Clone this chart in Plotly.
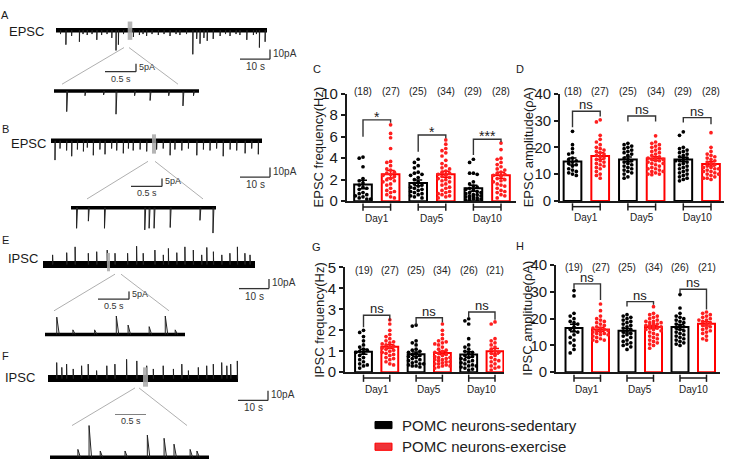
import plotly.graph_objects as go

W, H = 731, 475
FONT = "Arial, 'Liberation Sans', sans-serif"
INK = "#1a1a1a"
RED = "#ff0000"


def fx(x):
    return x / W


def fy(y):
    return 1 - y / H


# ======================= DATA =======================
days = ["Day1", "Day5", "Day10"]
legend_labels = ["POMC neurons-sedentary", "POMC neurons-exercise"]

# ---- C: EPSC frequency (Hz)
C_sed_mean = [1.55, 1.7, 1.2]
C_sed_sem = [0.4, 0.27, 0.28]
C_ex_mean = [2.5, 2.5, 2.4]
C_ex_sem = [0.35, 0.28, 0.28]
C_n = ["(18)", "(27)", "(25)", "(34)", "(29)", "(28)"]
C_sig = ["*", "*", "***"]
C_sed_pts = [
    [4.1, 4.0, 3.2, 2.1, 1.9, 1.7, 1.5, 1.3, 1.2, 1.1, 0.8, 0.7, 0.6, 0.5, 0.4, 0.3, 0.2, 0.2],
    [3.9, 3.6, 3.3, 3.1, 2.7, 2.6, 2.5, 2.4, 2.2, 2.0, 1.8, 1.6, 1.5, 1.4, 1.3, 1.2, 1.1, 1.0,
     0.9, 0.8, 0.7, 0.6, 0.5, 0.4, 0.3],
    [3.9, 3.6, 2.6, 2.6, 2.5, 1.8, 1.6, 1.4, 1.3, 1.2, 1.1, 1.0, 0.9, 0.8, 0.8, 0.7, 0.6, 0.6,
     0.5, 0.5, 0.4, 0.4, 0.3, 0.3, 0.2, 0.2, 0.1, 0.1, 0.1],
]
C_ex_pts = [
    [7.1, 6.3, 5.9, 4.9, 3.7, 3.6, 3.3, 3.0, 2.9, 2.7, 2.6, 2.5, 2.4, 2.3, 2.1, 2.0, 1.9, 1.8,
     1.6, 1.5, 1.2, 1.0, 0.9, 0.8, 0.6, 0.4, 0.3],
    [5.7, 5.3, 4.9, 4.7, 4.5, 4.2, 3.8, 3.5, 3.3, 3.1, 3.0, 2.8, 2.7, 2.6, 2.5, 2.4, 2.3, 2.2,
     2.1, 2.0, 1.9, 1.8, 1.6, 1.5, 1.3, 1.2, 1.0, 0.9, 0.8, 0.7, 0.6, 0.5, 0.4, 0.3],
    [5.4, 4.8, 4.0, 3.9, 3.6, 3.4, 3.2, 3.0, 2.9, 2.7, 2.6, 2.5, 2.4, 2.3, 2.1, 2.0, 1.9, 1.8,
     1.6, 1.5, 1.4, 1.2, 1.0, 0.9, 0.8, 0.6, 0.5, 0.3],
]

# ---- D: EPSC amplitude (pA)
D_sed_mean = [14.7, 15.5, 15.5]
D_sed_sem = [1.3, 0.9, 0.8]
D_ex_mean = [16.8, 15.8, 13.8]
D_ex_sem = [1.2, 0.7, 0.8]
D_n = ["(18)", "(27)", "(25)", "(34)", "(29)", "(28)"]
D_sig = ["ns", "ns", "ns"]
D_sed_pts = [
    [26.0, 21.0, 19.5, 18.0, 17.5, 16.0, 15.5, 15.0, 14.5, 14.0, 13.5, 13.0, 12.0, 11.5, 11.0,
     10.5, 10.0, 9.5],
    [21.5, 21.0, 20.5, 20.0, 19.5, 19.0, 18.5, 18.0, 17.5, 17.0, 16.0, 15.5, 15.0, 14.5, 14.0,
     13.5, 13.0, 12.5, 12.0, 11.5, 11.0, 10.5, 10.0, 9.0, 8.5],
    [25.8, 24.5, 20.0, 19.5, 19.0, 18.5, 18.0, 17.5, 17.0, 16.5, 16.0, 15.5, 15.0, 15.0, 14.5,
     14.0, 13.5, 13.0, 12.5, 12.0, 11.5, 11.0, 10.5, 10.0, 9.5, 9.0, 8.5, 8.0, 7.5],
]
D_ex_pts = [
    [30.3, 29.5, 24.5, 23.0, 22.0, 21.0, 20.0, 19.5, 19.0, 18.5, 18.0, 17.5, 17.0, 16.5, 16.0,
     15.5, 15.0, 14.5, 14.0, 13.5, 13.0, 12.5, 12.0, 11.0, 10.0, 9.5, 8.5],
    [24.3, 22.0, 21.5, 21.0, 20.5, 20.0, 19.5, 19.0, 18.5, 18.0, 17.5, 17.0, 16.5, 16.0, 16.0,
     15.5, 15.5, 15.0, 15.0, 14.5, 14.0, 14.0, 13.5, 13.0, 12.5, 12.0, 12.0, 11.5, 11.0, 11.0,
     10.5, 10.0, 10.0, 9.8],
    [25.5, 20.0, 18.5, 17.5, 17.0, 16.5, 16.0, 15.5, 15.0, 14.5, 14.0, 13.5, 13.0, 12.5, 12.5,
     12.0, 12.0, 11.5, 11.0, 11.0, 10.5, 10.0, 10.0, 9.5, 9.0, 8.5, 8.5, 8.0],
]

# ---- G: IPSC frequency (Hz)
G_sed_mean = [0.98, 0.86, 0.85]
G_sed_sem = [0.12, 0.1, 0.13]
G_ex_mean = [1.22, 0.92, 1.0]
G_ex_sem = [0.09, 0.08, 0.13]
G_n = ["(19)", "(27)", "(25)", "(34)", "(26)", "(21)"]
G_sig = ["ns", "ns", "ns"]
G_sed_pts = [
    [2.0, 1.9, 1.7, 1.5, 1.3, 1.2, 1.1, 1.05, 1.0, 0.95, 0.9, 0.8, 0.7, 0.6, 0.5, 0.4, 0.35,
     0.3, 0.2],
    [2.25, 2.2, 1.5, 1.4, 1.3, 1.1, 1.05, 1.0, 0.95, 0.9, 0.85, 0.8, 0.75, 0.7, 0.65, 0.6, 0.55,
     0.5, 0.45, 0.4, 0.4, 0.35, 0.3, 0.3, 0.25],
    [2.55, 2.45, 2.3, 1.6, 1.3, 1.2, 1.1, 1.0, 0.95, 0.9, 0.8, 0.75, 0.7, 0.65, 0.6, 0.55, 0.5,
     0.45, 0.4, 0.35, 0.3, 0.3, 0.25, 0.2, 0.15, 0.1],
]
G_ex_pts = [
    [2.5, 2.3, 2.0, 1.8, 1.7, 1.6, 1.5, 1.45, 1.4, 1.35, 1.3, 1.25, 1.2, 1.15, 1.1, 1.05, 1.0,
     0.95, 0.9, 0.85, 0.8, 0.7, 0.65, 0.6, 0.5, 0.4, 0.35],
    [2.3, 2.0, 1.8, 1.6, 1.5, 1.45, 1.4, 1.35, 1.3, 1.2, 1.1, 1.05, 1.0, 0.95, 0.9, 0.85, 0.8,
     0.75, 0.7, 0.7, 0.65, 0.6, 0.6, 0.55, 0.5, 0.5, 0.45, 0.4, 0.4, 0.35, 0.3, 0.3, 0.25, 0.2],
    [2.4, 2.3, 1.6, 1.5, 1.4, 1.3, 1.2, 1.1, 1.0, 0.95, 0.9, 0.8, 0.7, 0.6, 0.55, 0.5, 0.4, 0.3,
     0.25, 0.2, 0.1],
]

# ---- H: IPSC amplitude (pA)
H_sed_mean = [16.5, 15.5, 16.9]
H_sed_sem = [1.4, 0.8, 0.9]
H_ex_mean = [16.0, 16.9, 18.1]
H_ex_sem = [0.7, 0.6, 0.8]
H_n = ["(19)", "(27)", "(25)", "(34)", "(26)", "(21)"]
H_sig = ["ns", "ns", "ns"]
H_sed_pts = [
    [30.5, 28.5, 22.0, 21.0, 20.0, 19.0, 18.5, 18.0, 17.0, 16.0, 15.5, 15.0, 14.0, 13.0, 12.0,
     11.0, 10.0, 8.5, 7.2],
    [21.5, 21.0, 20.5, 20.0, 19.5, 19.0, 18.5, 18.0, 17.5, 17.0, 16.5, 16.0, 15.5, 15.0, 14.5,
     14.0, 13.5, 13.0, 12.0, 11.5, 11.0, 10.5, 10.0, 9.5, 8.5],
    [29.0, 24.0, 22.0, 21.0, 20.5, 20.0, 19.5, 19.0, 18.5, 18.0, 17.5, 17.0, 16.5, 16.0, 15.5,
     15.0, 14.5, 14.0, 13.5, 13.0, 12.5, 12.0, 11.5, 11.0, 10.5, 10.0],
]
H_ex_pts = [
    [25.5, 23.0, 21.0, 20.0, 19.5, 19.0, 18.5, 18.0, 17.5, 17.0, 16.5, 16.5, 16.0, 15.5, 15.5,
     15.0, 15.0, 14.5, 14.5, 14.0, 14.0, 13.5, 13.0, 12.5, 12.0, 12.0, 11.5],
    [24.5, 22.0, 21.5, 21.0, 20.5, 20.0, 19.5, 19.0, 19.0, 18.5, 18.5, 18.0, 18.0, 17.5, 17.5,
     17.0, 17.0, 16.5, 16.5, 16.0, 16.0, 15.5, 15.0, 14.5, 14.0, 13.5, 13.0, 12.5, 12.0, 11.5,
     11.0, 10.5, 10.0, 9.0],
    [22.5, 22.0, 21.5, 21.0, 20.5, 20.0, 19.5, 19.5, 19.0, 18.5, 18.0, 17.5, 17.0, 16.5, 16.0,
     15.5, 15.0, 14.5, 13.5, 12.5, 12.0],
]

# ---- Example recordings: event times (s) and amplitudes (pA)
A_main_t = [1.5, 3.3, 5.2, 7.8, 9.0, 10.4, 12.0, 13.6, 15.2, 17.0, 18.6, 20.0, 20.8, 22.5, 25.8,
            27.8, 29.0, 30.2, 32.0, 34.1, 36.0, 38.0, 40.0, 41.3, 43.5, 45.6, 46.9, 48.0, 49.3,
            50.4, 52.4, 54.7, 56.5, 58.0, 60.0, 61.3, 63.6, 65.8, 66.8, 67.8, 69.7]
A_main_amp = [4, 15, 6, 12, 4, 5, 4, 10, 5, 4, 8, 21, 15, 4, 7, 5, 4, 6, 4, 5, 4, 6, 4, 5, 4,
              25, 9, 14, 8, 11, 9, 6, 4, 6, 4, 5, 10, 5, 4, 18, 12]
A_zoom_t = [0.205, 0.5, 0.8, 1.0, 1.3, 1.55, 1.85, 2.08, 2.25]
A_zoom_amp = [13, 3, 2.5, 14.6, 3, 6, 3, 9.4, 3]

B_main_t = [1.33, 3.0, 5.2, 6.9, 8.8, 10.8, 12.1, 14.1, 16.3, 18.0, 20.2, 21.9, 24.1, 25.8, 27.4,
            29.7, 31.9, 35.2, 37.4, 39.7, 41.3, 43.6, 45.8, 48.6, 50.8, 53.0, 55.2, 57.4, 59.7,
            61.9, 64.7, 66.9, 69.1]
B_main_amp = [20, 8, 10, 16, 9, 11, 7, 15, 9, 14, 8, 10, 13, 8, 10, 9, 11, 9, 8, 15, 9, 10, 8,
              15, 9, 10, 8, 16, 9, 10, 13, 8, 14]
B_zoom_t = [0.09, 0.28, 0.54, 1.19, 1.26, 1.34, 1.60, 2.08, 2.29]
B_zoom_amp = [13, 8.5, 13, 14, 13, 13, 12.5, 8, 16]

E_main_t = [3.2, 7.9, 10.7, 15.1, 17.9, 21.4, 24.0, 28.2, 31.2, 33.4, 37.3, 40.1, 41.8, 44.6,
            47.3, 50.1, 52.9, 54.6, 56.8, 59.6, 62.3, 64.8, 67.3, 69.0]
E_main_amp = [10, 12.3, 18.3, 11.7, 13.3, 15, 11.7, 11.7, 19, 11.7, 15, 10, 16.7, 12.3, 18.3,
              15, 10, 17.7, 13.3, 10, 11.7, 18.3, 11.7, 10]
E_zoom_t = [0.19, 0.45, 0.8, 1.15, 1.34, 1.68, 1.94, 2.1]
E_zoom_amp = [11, 3, 3, 11.7, 6, 5, 11.7, 3]

F_main_t = [2.9, 4.6, 6.2, 8.4, 11.2, 13.4, 16.2, 19.6, 22.3, 26.2, 29.6, 32.9, 35.1, 38.4, 41.8,
            44.6, 46.8, 50.1, 52.9, 55.1, 57.9, 59.6, 60.9, 63.1]
F_main_amp = [16.6, 11.6, 15, 10, 13.3, 15, 8.3, 13.3, 15, 20, 18.3, 13.3, 10, 13.3, 10, 15, 8.3,
              11.6, 13.3, 15, 16.6, 13.3, 15, 18.3]
F_zoom_t = [0.45, 0.63, 0.81, 1.21, 1.57, 1.84, 2.0, 2.26, 2.37]
F_zoom_amp = [5, 20, 4, 4, 14, 12, 8.3, 5, 4]

# ======================= FIGURE =======================
fig = go.Figure()
layout = dict(
    width=W, height=H, margin=dict(l=0, r=0, t=0, b=0),
    paper_bgcolor="white", plot_bgcolor="rgba(0,0,0,0)",
    showlegend=False, barmode="overlay",
    font=dict(family=FONT, color=INK),
)
shapes = []
annotations = []


def text(x, y, s, size, xanchor="center", yanchor="middle", xref="paper", yref="paper",
         color=INK, angle=0, xshift=0, yshift=0):
    annotations.append(dict(x=x, y=y, text=s, showarrow=False, xref=xref, yref=yref,
                            xanchor=xanchor, yanchor=yanchor, textangle=angle,
                            font=dict(size=size, color=color, family=FONT),
                            xshift=xshift, yshift=yshift))


def seg(x0, y0, x1, y1, xref="paper", yref="paper", color=INK, width=1.4, layer="above"):
    shapes.append(dict(type="line", x0=x0, y0=y0, x1=x1, y1=y1, xref=xref, yref=yref,
                       line=dict(color=color, width=width), layer=layer))


# ---------------- recordings ----------------
blocks = [
    dict(letter="A", ly=6, label="EPSC", lab_xy=(26, 23), sign=-1, zdec=0.015,
         main=(56, 22, 211, A_main_t, A_main_amp, 4.5), zoom=(54, 85, 145, A_zoom_t, A_zoom_amp, 3.5),
         sc_main=(270, 52), sc_zoom=(136, 65), rect=(127.7, 13, 132.3, 32),
         links=((124, 40, 62, 78), (129, 40, 178, 78))),
    dict(letter="B", ly=124, label="EPSC", lab_xy=(28, 139), sign=-1, zdec=0.015,
         main=(51, 136.7, 211, B_main_t, B_main_amp, 4.5), zoom=(71, 206, 145, B_zoom_t, B_zoom_amp, 3.5),
         sc_main=(270, 174.3), sc_zoom=(162, 184), rect=(152, 130, 156, 150),
         links=((148, 158, 87, 197), (155, 158, 203, 197))),
    dict(letter="E", ly=240, label="IPSC", lab_xy=(22.5, 259), sign=1, zdec=0.04,
         main=(43, 265, 212, E_main_t, E_main_amp, 7), zoom=(45, 337.7, 140, E_zoom_t, E_zoom_amp, 3.5),
         sc_main=(269, 290), sc_zoom=(129, 301), rect=(107, 253, 110, 272),
         links=((115, 275, 54, 313), (121, 275, 169, 313))),
    dict(letter="F", ly=360, label="IPSC", lab_xy=(20, 381.7), sign=1, zdec=0.04,
         main=(48, 383.3, 190, F_main_t, F_main_amp, 7), zoom=(50, 465, 159, F_zoom_t, F_zoom_amp, 3.5),
         sc_main=(268, 406), sc_zoom=(146, 420), rect=(143, 371.7, 148, 391.7),
         links=((135, 393, 72, 432), (139, 393, 187, 432))),
]

ax_idx = 5
for blk in blocks:
    text(fx(5), fy(blk["ly"]), blk["letter"], 11)
    text(fx(blk["lab_xy"][0]), fy(blk["lab_xy"][1]), blk["label"], 13)
    for part, sx, sy, dec, sbar in (("main", 3.0, 1.0, 0.1, (10, 10, "10 s", "10pA", 10)),
                                    ("zoom", 62.0, 1.65, blk["zdec"], (0.5, 5, "0.5 s", "5pA", 9))):
        t0, base, length, ev_t, ev_a, band = blk[part]
        i = ax_idx
        ax_idx += 1
        L, R = 0, 300
        T, B = max(0, base - 45), min(H, base + 45)
        layout[f"xaxis{i}"] = dict(domain=[fx(L), fx(R)], range=[(L - t0) / sx, (R - t0) / sx],
                                   visible=False, anchor=f"y{i}", fixedrange=True)
        layout[f"yaxis{i}"] = dict(domain=[fy(B), fy(T)], range=[(base - B) / sy, (base - T) / sy],
                                   visible=False, anchor=f"x{i}", fixedrange=True)
        dur = length / sx
        fig.add_trace(go.Scatter(x=[0, dur], y=[0, 0], mode="lines",
                                 line=dict(color="black", width=band),
                                 xaxis=f"x{i}", yaxis=f"y{i}", hoverinfo="skip"))
        xs, ys = [], []
        for t, a in zip(ev_t, ev_a):
            xs += [t, t, t + dec, None]
            ys += [0, blk["sign"] * a, 0, None]
        fig.add_trace(go.Scatter(x=xs, y=ys, mode="lines",
                                 line=dict(color="#222222", width=1.0),
                                 xaxis=f"x{i}", yaxis=f"y{i}", hoverinfo="skip"))
        cx, cy = blk["sc_" + part]
        tc, vc = (cx - t0) / sx, (base - cy) / sy
        tlen, alen, tlab, alab, fsz = sbar
        seg(tc - tlen, vc, tc, vc, xref=f"x{i}", yref=f"y{i}", color="#333333", width=1.3)
        seg(tc, vc, tc, vc + alen, xref=f"x{i}", yref=f"y{i}", color="#333333", width=1.3)
        text(tc, vc + alen / 2, alab, fsz, xanchor="left", xref=f"x{i}", yref=f"y{i}",
             color="#333333", xshift=1, yshift=1)
        text(tc - tlen / 2, vc, tlab, fsz, yanchor="top", xref=f"x{i}", yref=f"y{i}",
             color="#333333", yshift=0)
    x0, y0, x1, y1 = blk["rect"]
    shapes.append(dict(type="rect", x0=fx(x0), x1=fx(x1), y0=fy(y1), y1=fy(y0), xref="paper",
                       yref="paper", fillcolor="#a8a8a8", opacity=0.85, line=dict(width=0),
                       layer="above"))
    for (a, b, c, d) in blk["links"]:
        seg(fx(a), fy(b), fx(c), fy(d), color="#9a9a9a", width=0.8)


# ---------------- bar panels ----------------
panels = [
    dict(ax="", L=346.7, R=516, T=87.8, B=199.3, c0=363, step=27.6, ymax=10, dtick=2,
         title="EPSC frequency(Hz)", tx=318, ny=86, letter=("C", 316.5, 62),
         sm=C_sed_mean, ss=C_sed_sem, em=C_ex_mean, es=C_ex_sem, sp=C_sed_pts, ep=C_ex_pts,
         n=C_n, sig=C_sig, top=[7.56, 6.15, 5.76], lft=[6.0, 4.6, 4.3], rgt=[7.3, 5.85, 5.5]),
    dict(ax="2", L=560, R=724, T=88, B=199, c0=572.5, step=27.7, ymax=40, dtick=10,
         title="EPSC amplitude(ρA)", tx=528, ny=86, letter=("D", 519.5, 62),
         sm=D_sed_mean, ss=D_sed_sem, em=D_ex_mean, es=D_ex_sem, sp=D_sed_pts, ep=D_ex_pts,
         n=D_n, sig=D_sig, top=[33.5, 31.7, 31.1], lft=[27.5, 29.7, 29.3], rgt=[31.5, 29.7, 28.6]),
    dict(ax="3", L=345, R=504, T=268, B=376.7, c0=363.5, step=26.3, ymax=5, dtick=1,
         title="IPSC frequency(Hz)", tx=320, ny=271, letter=("G", 316.5, 247),
         sm=G_sed_mean, ss=G_sed_sem, em=G_ex_mean, es=G_ex_sem, sp=G_sed_pts, ep=G_ex_pts,
         n=G_n, sig=G_sig, top=[2.72, 2.6, 2.87], lft=[2.14, 2.27, 2.6], rgt=[2.46, 2.37, 2.5]),
    dict(ax="4", L=556, R=720, T=265.7, B=376.7, c0=574, step=26.5, ymax=40, dtick=10,
         title="IPSC amplitude(ρA)", tx=528, ny=268, letter=("H", 519.5, 246),
         sm=H_sed_mean, ss=H_sed_sem, em=H_ex_mean, es=H_ex_sem, sp=H_sed_pts, ep=H_ex_pts,
         n=H_n, sig=H_sig, top=[33.0, 26.4, 31.0], lft=[31.2, 24.6, 29.4], rgt=[27.0, 25.2, 23.4]),
]


def swarm(vals, ppx, ppy, step_px=3.8, dot_px=3.8, kmax=2):
    ks = [0]
    for k in range(1, kmax + 1):
        ks += [-k, k]
    placed, out = [], []
    for v in vals:
        best, bestd = 0, -1.0
        for k in ks:
            dx = k * step_px
            d = min([(dx - px_) ** 2 + ((v - pv) * ppy) ** 2 for px_, pv in placed] or [1e9])
            if d >= dot_px ** 2:
                best = dx
                break
            if d > bestd:
                bestd, best = d, dx
        placed.append((best, v))
        out.append(best / ppx)
    return out


for p in panels:
    xa, ya = "x" + p["ax"], "y" + p["ax"]
    xr = [(p["L"] - p["c0"]) / p["step"], (p["R"] - p["c0"]) / p["step"]]
    layout["xaxis" + p["ax"]] = dict(
        domain=[fx(p["L"]), fx(p["R"])], range=xr, anchor=ya, showline=True, linecolor=INK,
        linewidth=1.6, ticks="", showticklabels=False, showgrid=False, zeroline=False,
        fixedrange=True)
    layout["yaxis" + p["ax"]] = dict(
        domain=[fy(p["B"]), fy(p["T"])], range=[0, p["ymax"]], anchor=xa, showline=True,
        linecolor=INK, linewidth=1.6, ticks="outside", ticklen=4, tickwidth=1.6, tickcolor=INK,
        dtick=p["dtick"], tick0=0, showgrid=False, zeroline=False, fixedrange=True,
        tickfont=dict(size=15, color=INK, family=FONT))
    ppy = (p["B"] - p["T"]) / p["ymax"]
    for grp, (means, sems, pts, col) in enumerate(
            [(p["sm"], p["ss"], p["sp"], "black"), (p["em"], p["es"], p["ep"], RED)]):
        xpos = [2 * d + grp for d in range(3)]
        fig.add_trace(go.Bar(
            x=xpos, y=means, width=0.64, xaxis=xa, yaxis=ya,
            marker=dict(color="white", line=dict(color=col, width=2)),
            error_y=dict(type="data", array=sems, color=col, thickness=1.5, width=4),
            hoverinfo="skip"))
        sx_all, sy_all = [], []
        for d in range(3):
            offs = swarm(pts[d], p["step"], ppy)
            sx_all += [xpos[d] + o for o in offs]
            sy_all += pts[d]
        fig.add_trace(go.Scatter(
            x=sx_all, y=sy_all, mode="markers", xaxis=xa, yaxis=ya,
            marker=dict(color=col if col == "black" else "#ff1f1f", size=3.7, line=dict(width=0)),
            hoverinfo="skip"))
    for k, lab in enumerate(p["n"]):
        text(k, fy(p["ny"]), lab, 10, xref=xa, color="#222222")
    for d, lab in enumerate(days):
        x0, x1 = 2 * d, 2 * d + 1
        yb = p["B"]
        seg(x0, fy(yb + 6), x1, fy(yb + 6), xref=xa, width=1.5)
        seg(x0, fy(yb + 2.5), x0, fy(yb + 10), xref=xa, width=1.5)
        seg(x1, fy(yb + 2.5), x1, fy(yb + 10), xref=xa, width=1.5)
        text(x0 + 0.5, fy(yb + 17.5), lab, 10, xref=xa)
    for d in range(3):
        x0, x1 = 2 * d, 2 * d + 1
        shapes.append(dict(type="path", xref=xa, yref=ya,
                           path=f"M{x0},{p['lft'][d]} L{x0},{p['top'][d]} L{x1},{p['top'][d]} L{x1},{p['rgt'][d]}",
                           line=dict(color="#333333", width=1.4)))
        s = p["sig"][d]
        if s == "ns":
            text(x0 + 0.5, p["top"][d], s, 13, yanchor="bottom", xref=xa, yref=ya, yshift=-3)
        else:
            text(x0 + 0.5, p["top"][d], s, 14, yanchor="bottom", xref=xa, yref=ya, yshift=-7)
    text(fx(p["tx"]), fy((p["T"] + p["B"]) / 2), p["title"], 13, angle=-90)
    lt, lx, ly = p["letter"]
    text(fx(lx), fy(ly), lt, 11)

# ---------------- legend ----------------
for k, (lab, fill, edge) in enumerate(zip(legend_labels, ["black", "#ee3338"], ["black", RED])):
    yc = [431.5, 454][k]
    shapes.append(dict(type="rect", x0=fx(375), x1=fx(392), y0=fy(yc + 3.7), y1=fy(yc - 3.7),
                       xref="paper", yref="paper", fillcolor=fill, line=dict(color=edge, width=1)))
    text(fx(400), fy(yc), lab, 15, xanchor="left", color="#222222")

layout["shapes"] = shapes
layout["annotations"] = annotations
fig.update_layout(**layout)

fig.write_html("out.html", config={"displayModeBar": False},
               post_script="document.body.style.margin='0';")
